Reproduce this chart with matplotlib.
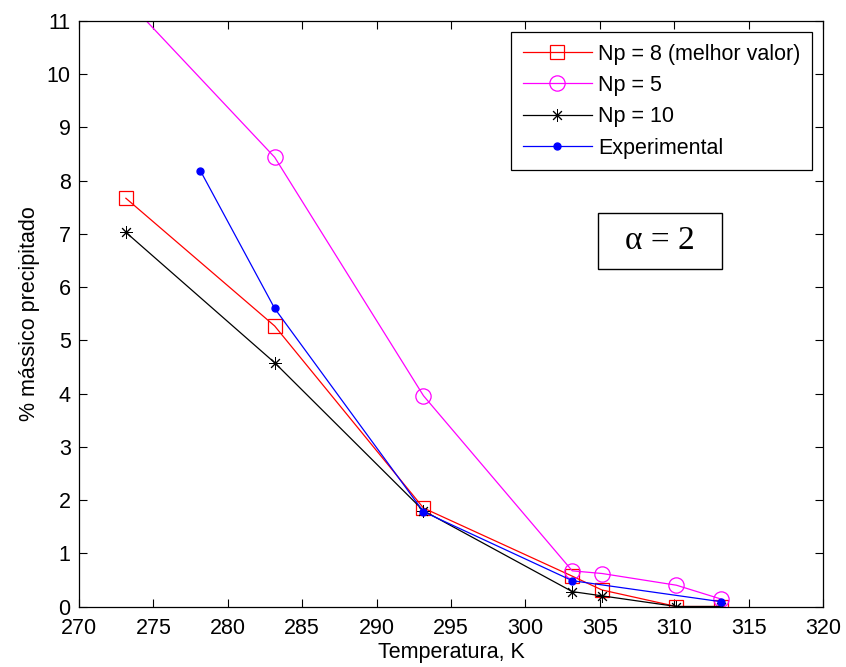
import numpy as np
import matplotlib.pyplot as plt
from matplotlib.patches import Rectangle

plt.rcParams['font.family'] = ['Liberation Sans', 'DejaVu Sans']

temp = [273.15, 283.15, 293.15, 303.15, 305.15, 310.15, 313.15]
np8 = [7.67, 5.27, 1.85, 0.57, 0.31, 0.0, 0.0]
np5 = [11.41, 8.44, 3.96, 0.67, 0.62, 0.40, 0.14]
np10 = [7.03, 4.58, 1.80, 0.28, 0.20, 0.0, 0.0]
temp_exp = [278.15, 283.15, 293.15, 303.15, 313.15]
exp = [8.19, 5.60, 1.78, 0.485, 0.09]

fig = plt.figure(figsize=(8.46, 6.67), dpi=100)
ax = fig.add_axes([0.0934, 0.0907, 0.8794, 0.8778])

lw = 0.9
ax.plot(temp, np8, color='red', marker='s', mfc='none', ms=10, mew=0.9, lw=lw,
        label='Np = 8 (melhor valor)')
ax.plot(temp, np5, color='magenta', marker='o', mfc='none', ms=11, mew=0.9, lw=lw,
        label='Np = 5')
ax.plot(temp, np10, color='black', marker=(8, 2, 0), ms=9, mew=0.7, lw=lw,
        label='Np = 10')
ax.plot(temp_exp, exp, color='blue', marker='o', ms=5, lw=lw,
        label='Experimental')

ax.set_xlim(270, 320)
ax.set_ylim(0, 11)
ax.set_xticks(np.arange(270, 321, 5))
ax.set_yticks(np.arange(0, 12, 1))
ax.tick_params(direction='in', top=True, right=True, length=6, labelsize=15.5)
ax.tick_params(axis='x', pad=8.5)
ax.tick_params(axis='y', pad=6)
for s in ax.spines.values():
    s.set_linewidth(0.9)

ax.set_xlabel('Temperatura, K', fontsize=15.5, labelpad=2)
ax.set_ylabel('% mássico precipitado', fontsize=15.5, labelpad=5)

leg = ax.legend(loc='upper right', fontsize=15.5, fancybox=False, edgecolor='black',
                handlelength=3.2, handletextpad=0.3, borderaxespad=0.5,
                labelspacing=0.48, borderpad=0.55, framealpha=1)
leg.get_frame().set_linewidth(0.9)

# alpha annotation box
ax.add_patch(Rectangle((0.6976, 0.5764), 0.1667, 0.0956, transform=ax.transAxes,
                       fill=False, ec='black', lw=1.0, zorder=5))
ax.text(0.781, 0.624, 'α = 2', fontsize=24, family='Liberation Serif',
        transform=ax.transAxes, ha='center', va='center', zorder=6)

fig.savefig('out.png', dpi=100)
